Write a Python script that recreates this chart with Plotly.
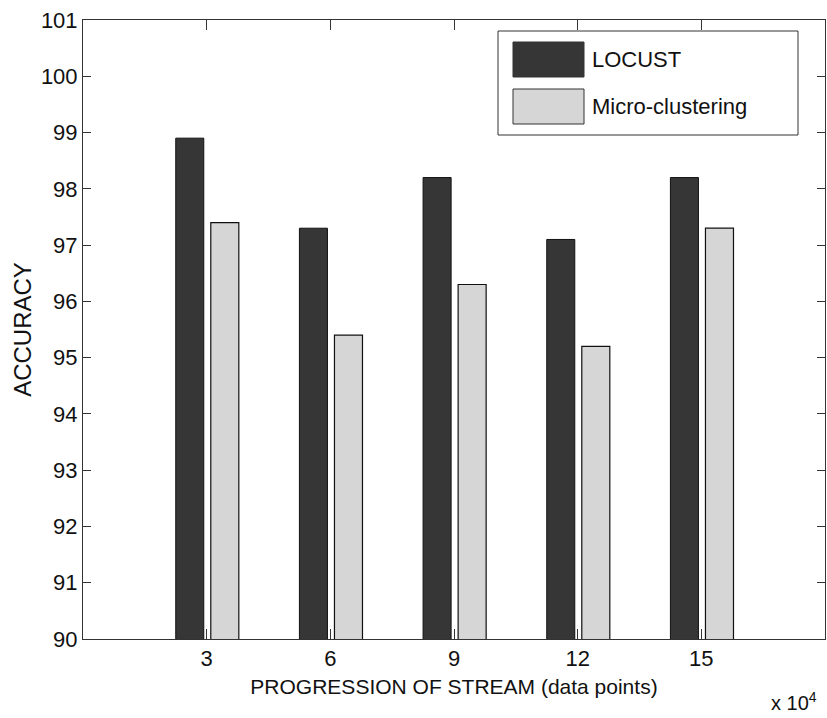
import plotly.graph_objects as go

# Stream progression (x 10^4 data points) and accuracy of each method
positions = [3, 6, 9, 12, 15]
locust_acc = [98.9, 97.3, 98.2, 97.1, 98.2]
micro_acc = [97.4, 95.4, 96.3, 95.2, 97.3]
series_names = ["LOCUST", "Micro-clustering"]
series_colors = ["#363636", "#d6d6d6"]
y_ticks = list(range(90, 102))

W, H = 827, 718
L, R, T, B = 83, 2, 20, 79
PW, PH = W - L - R, H - T - B

FONT = "Liberation Sans, Arial, sans-serif"


def px(x):
    return (x - L) / PW


def py(y):
    return (H - B - y) / PH


fig = go.Figure()
fig.add_trace(go.Bar(x=positions, y=locust_acc, name=series_names[0],
                     width=0.68, offset=-0.75,
                     marker=dict(color=series_colors[0],
                                 line=dict(color="#111111", width=1))))
fig.add_trace(go.Bar(x=positions, y=micro_acc, name=series_names[1],
                     width=0.68, offset=0.10,
                     marker=dict(color=series_colors[1],
                                 line=dict(color="#111111", width=1.2))))

axis_common = dict(showline=True, linecolor="#333333", linewidth=1,
                   mirror="ticks", ticks="inside", tickcolor="#333333",
                   showgrid=False, zeroline=False,
                   tickfont=dict(family=FONT, size=22, color="#111111"))

fig.update_xaxes(range=[0, 18], tickvals=positions, ticklen=10,
                 title=dict(text="PROGRESSION OF STREAM (data points)",
                            font=dict(family=FONT, size=21, color="#111111"),
                            standoff=8),
                 **axis_common)
fig.update_yaxes(range=[90, 101], tickvals=y_ticks, ticklen=8,
                 title=dict(text="ACCURACY",
                            font=dict(family=FONT, size=24, color="#111111"),
                            standoff=2),
                 **axis_common)

# Legend box drawn by hand so the swatches can be large
shapes = [dict(type="rect", xref="paper", yref="paper",
               x0=px(498), x1=px(798), y0=py(135), y1=py(31),
               line=dict(color="#333333", width=1), fillcolor="white")]
annotations = []
for i, (name, col) in enumerate(zip(series_names, series_colors)):
    top = 42 + i * 47
    shapes.append(dict(type="rect", xref="paper", yref="paper",
                       x0=px(513), x1=px(584), y0=py(top + 35), y1=py(top),
                       line=dict(color="#333333", width=1), fillcolor=col))
    annotations.append(dict(xref="paper", yref="paper", x=px(590),
                            y=py(top + 17), text=name, showarrow=False,
                            xanchor="left", yanchor="middle",
                            font=dict(family=FONT, size=22, color="#111111")))

annotations.append(dict(xref="paper", yref="paper", x=px(819), y=py(716),
                        text="x 10<sup>4</sup>", showarrow=False,
                        xanchor="right", yanchor="bottom",
                        font=dict(family=FONT, size=20, color="#111111")))

fig.update_layout(width=W, height=H, barmode="overlay", showlegend=False,
                  margin=dict(l=L, r=R, t=T, b=B),
                  plot_bgcolor="white", paper_bgcolor="white",
                  shapes=shapes, annotations=annotations)

fig.write_html("out.html")
